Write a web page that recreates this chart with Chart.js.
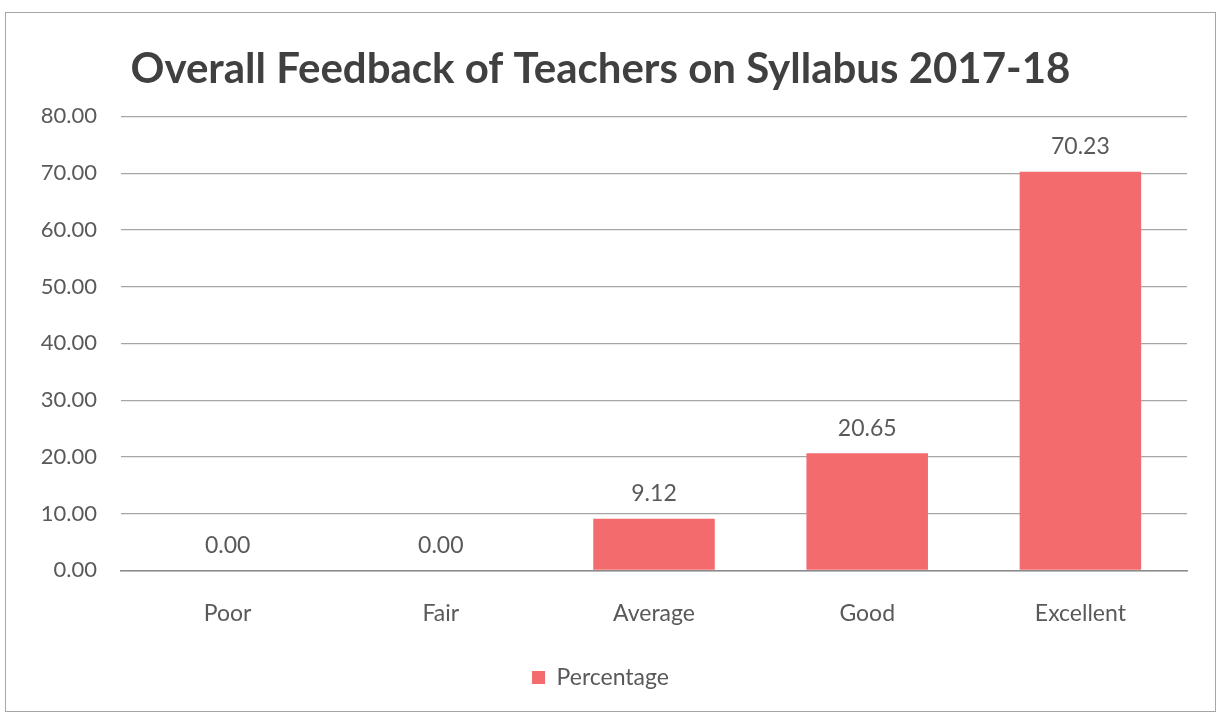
<!DOCTYPE html>
<html>
<head>
<meta charset="utf-8">
<script src="https://cdn.jsdelivr.net/npm/chart.js@4/dist/chart.umd.min.js"></script>
<style>
  body { margin: 0; background: #fff; }
  #frame {
    position: absolute; left: 5px; top: 12px;
    width: 1211px; height: 700px;
    border: 1px solid #a6a6a6; box-sizing: border-box;
  }
</style>
</head>
<body>
<div id="frame"><canvas id="feedbackChart"></canvas></div>
<script>
// Data
const categories = ['Poor', 'Fair', 'Average', 'Good', 'Excellent'];
const percentages = [0.00, 0.00, 9.12, 20.65, 70.23];
const seriesName = 'Percentage';
const yTicks = [0, 10, 20, 30, 40, 50, 60, 70, 80];

const textColor = '#595959';
const barColor = '#f36b6c';
const fontFamily = 'Lato, "Open Sans", sans-serif';

// draws the value above each bar
const valueLabels = {
    id: 'valueLabels',
    afterDatasetsDraw(chart) {
        const ctx = chart.ctx;
        const meta = chart.getDatasetMeta(0);
        ctx.save();
        ctx.fillStyle = textColor;
        ctx.font = '23px ' + fontFamily;
        ctx.textAlign = 'center';
        ctx.textBaseline = 'middle';
        meta.data.forEach((bar, i) => {
            ctx.fillText(percentages[i].toFixed(2), bar.x, bar.y - 25);
        });
        ctx.restore();
    }
};

const ctx = document.getElementById('feedbackChart').getContext('2d');
new Chart(ctx, {
    type: 'bar',
    data: {
        labels: categories,
        datasets: [{
            label: seriesName,
            data: percentages,
            backgroundColor: barColor,
            barPercentage: 0.57,
            categoryPercentage: 1.0
        }]
    },
    options: {
        responsive: true,
        maintainAspectRatio: false,
        animation: false,
        layout: { padding: { left: 8, right: 28, top: 0, bottom: 12 } },
        plugins: {
            title: {
                display: true,
                text: 'Overall Feedback of Teachers on Syllabus 2017-18',
                color: '#404040',
                font: { family: fontFamily, size: 42, weight: 'bold' },
                padding: { top: 31, bottom: 22 }
            },
            legend: {
                position: 'bottom',
                labels: {
                    color: textColor,
                    font: { family: fontFamily, size: 23 },
                    usePointStyle: true,
                    pointStyle: 'rect',
                    boxWidth: 13,
                    boxHeight: 13,
                    padding: 10
                }
            },
            tooltip: { enabled: false }
        },
        scales: {
            x: {
                grid: { display: false, drawTicks: false },
                border: { display: true, color: '#8c8c8c', width: 1.5 },
                ticks: {
                    color: textColor,
                    font: { family: fontFamily, size: 23 },
                    padding: 29
                }
            },
            y: {
                min: 0,
                max: 80,
                afterBuildTicks: scale => {
                    scale.ticks = yTicks.map(v => ({ value: v }));
                },
                afterFit: scale => { scale.width = 107; },
                grid: { color: '#a6a6a6', lineWidth: 1.2, drawTicks: false },
                border: { display: false },
                ticks: {
                    color: textColor,
                    font: { family: fontFamily, size: 22 },
                    padding: 24,
                    callback: v => v.toFixed(2)
                }
            }
        }
    },
    plugins: [valueLabels]
});
</script>
</body>
</html>
